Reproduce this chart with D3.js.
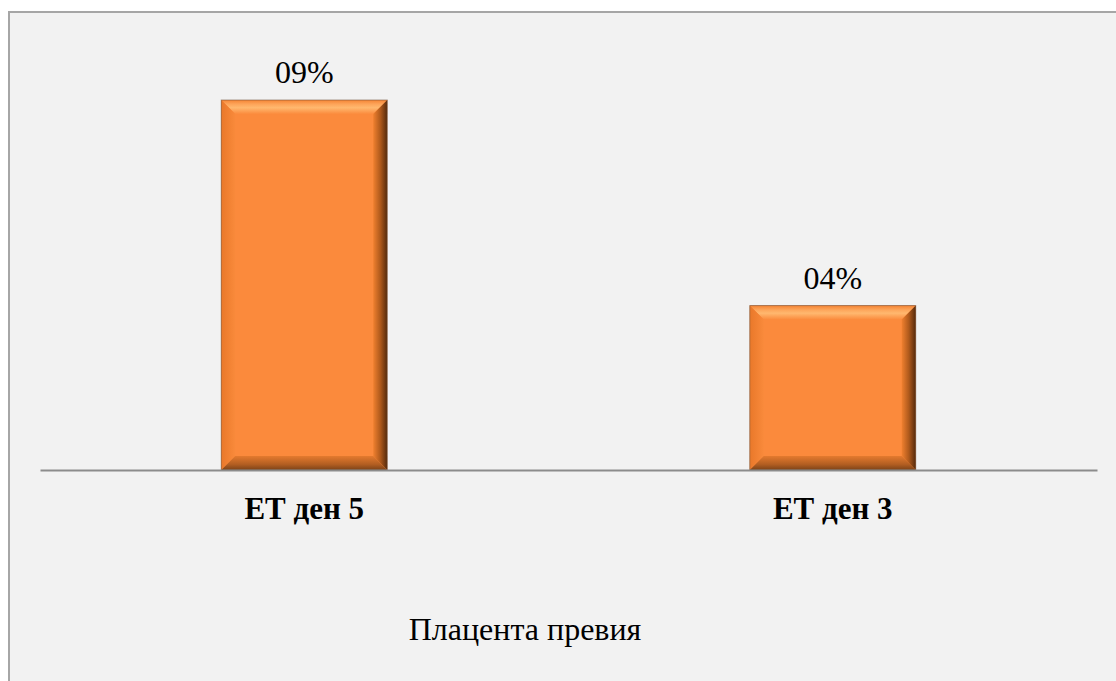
<!DOCTYPE html>
<html>
<head>
<meta charset="utf-8">
<script src="https://cdn.jsdelivr.net/npm/d3@7"></script>
<style>
  html, body { margin: 0; padding: 0; background: #ffffff; }
  svg { display: block; }
  text { font-family: "Liberation Serif", "Times New Roman", serif; }
</style>
</head>
<body>
<svg id="chart" width="1116" height="681"></svg>
<script>
// Chart data
const categories = ["ЕТ ден 5", "ЕТ ден 3"];
const values = [9, 4];
const valueLabels = ["09%", "04%"];
const chartTitle = "Плацента превия";

const W = 1116, H = 681;
const FONT = "'Liberation Serif', 'Times New Roman', serif";
const svg = d3.select("#chart");

// chart area background and frame
svg.append("rect")
  .attr("x", 9).attr("y", 12)
  .attr("width", W + 10).attr("height", H + 10)
  .attr("fill", "#f2f2f2")
  .attr("stroke", "#a6a6a6")
  .attr("stroke-width", 2);

const plot = { left: 40, right: 1097, top: 100, bottom: 470 };

const x = d3.scaleBand()
  .domain(categories)
  .range([plot.left, plot.right])
  .paddingInner(0.686)
  .paddingOuter(0.343);

const y = d3.scaleLinear()
  .domain([0, 9])
  .range([plot.bottom, plot.top]);

// gradients for the bevelled bar faces
const defs = svg.append("defs");
function lin(id, x1, y1, x2, y2, stops) {
  const g = defs.append("linearGradient").attr("id", id)
    .attr("x1", x1).attr("y1", y1).attr("x2", x2).attr("y2", y2);
  stops.forEach(s => g.append("stop").attr("offset", s[0]).attr("stop-color", s[1]));
}
lin("bevTop", 0, 1, 0, 0, [[0, "#fb8b3d"], [0.45, "#ffb86f"], [0.7, "#fda55a"], [1, "#f58434"]]);
lin("bevRight", 0, 0, 1, 0, [[0, "#f0802f"], [0.5, "#b05a1c"], [1, "#552a0c"]]);
lin("bevLeft", 1, 0, 0, 0, [[0, "#f98a3b"], [1, "#e9782a"]]);
lin("bevBottom", 0, 0, 0, 1, [[0, "#e47a2e"], [0.6, "#b25e22"], [1, "#7c4217"]]);

const bev = 14;
const bars = svg.append("g").selectAll("g")
  .data(categories.map((c, i) => ({ c, v: values[i], label: valueLabels[i] })))
  .join("g");

bars.each(function (d) {
  const g = d3.select(this);
  const x0 = x(d.c), x1 = x(d.c) + x.bandwidth();
  const y0 = y(d.v), y1 = y(0);
  const b = Math.min(bev, (y1 - y0) / 2);
  const poly = pts => pts.map(p => p.join(",")).join(" ");
  g.append("rect")
    .attr("x", x0).attr("y", y0)
    .attr("width", x1 - x0).attr("height", y1 - y0)
    .attr("fill", "#fb8a3c");
  g.append("polygon").attr("fill", "url(#bevTop)")
    .attr("points", poly([[x0, y0], [x1, y0], [x1 - b, y0 + b], [x0 + b, y0 + b]]));
  g.append("polygon").attr("fill", "url(#bevLeft)")
    .attr("points", poly([[x0, y0], [x0 + b, y0 + b], [x0 + b, y1 - b], [x0, y1]]));
  g.append("polygon").attr("fill", "url(#bevRight)")
    .attr("points", poly([[x1, y0], [x1, y1], [x1 - b, y1 - b], [x1 - b, y0 + b]]));
  g.append("polygon").attr("fill", "url(#bevBottom)")
    .attr("points", poly([[x0, y1], [x1, y1], [x1 - b, y1 - b], [x0 + b, y1 - b]]));
  g.append("rect")
    .attr("x", x0).attr("y", y0)
    .attr("width", x1 - x0).attr("height", y1 - y0)
    .attr("fill", "none")
    .attr("stroke", "rgba(110,80,60,0.55)")
    .attr("stroke-width", 1);
  g.append("text")
    .attr("x", (x0 + x1) / 2)
    .attr("y", y0 - 17)
    .attr("text-anchor", "middle")
    .style("font-family", FONT)
    .attr("font-size", 32)
    .attr("fill", "#000")
    .text(d.label);
});

// baseline axis
const xAxis = svg.append("g")
  .attr("transform", `translate(0,${plot.bottom})`)
  .call(d3.axisBottom(x).tickSize(0).tickPadding(27));
xAxis.select(".domain")
  .attr("stroke", "#8c8c8c")
  .attr("stroke-width", 2);
xAxis.selectAll("text")
  .style("font-family", FONT)
  .attr("font-size", 31)
  .attr("font-weight", "bold")
  .attr("fill", "#000");

// chart title beneath the axis
svg.append("text")
  .attr("x", 525)
  .attr("y", 640)
  .attr("text-anchor", "middle")
  .style("font-family", FONT)
  .attr("font-size", 32)
  .attr("fill", "#000")
  .text(chartTitle);
</script>
</body>
</html>
